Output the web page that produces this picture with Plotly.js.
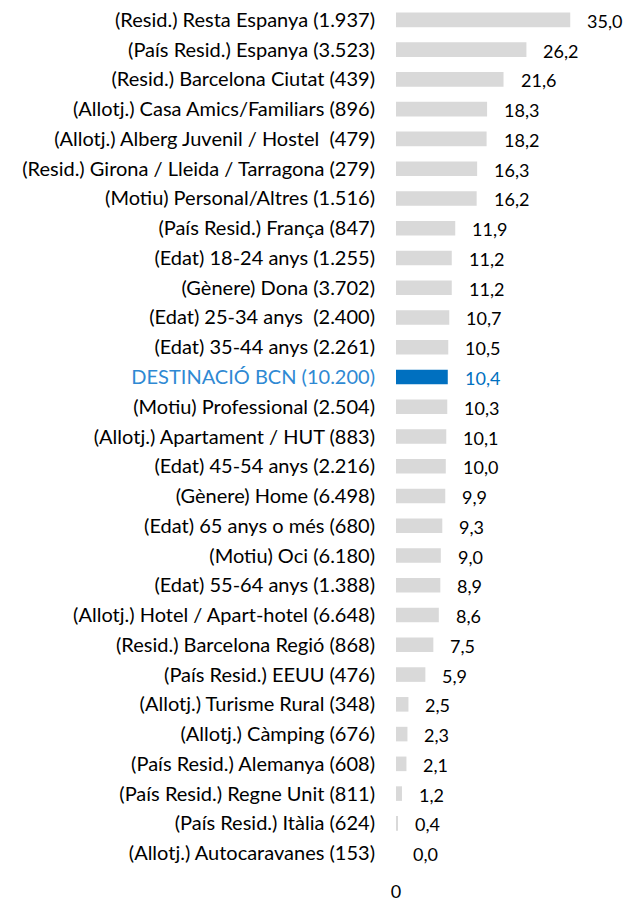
<!DOCTYPE html>
<html>
<head>
<meta charset="utf-8">
<script src="https://cdn.plot.ly/plotly-3.0.1.min.js"></script>
<style>html,body{margin:0;padding:0;background:#fff;}#chart{width:633px;height:902px;}</style>
</head>
<body>
<div id="chart"></div>
<script>
const categories = [
  "(Resid.) Resta Espanya (1.937)",
  "(País Resid.) Espanya (3.523)",
  "(Resid.) Barcelona Ciutat (439)",
  "(Allotj.) Casa Amics/Familiars (896)",
  "(Allotj.) Alberg Juvenil / Hostel  (479)",
  "(Resid.) Girona / Lleida / Tarragona (279)",
  "(Motiu) Personal/Altres (1.516)",
  "(País Resid.) França (847)",
  "(Edat) 18-24 anys (1.255)",
  "(Gènere) Dona (3.702)",
  "(Edat) 25-34 anys  (2.400)",
  "(Edat) 35-44 anys (2.261)",
  "DESTINACIÓ BCN (10.200)",
  "(Motiu) Professional (2.504)",
  "(Allotj.) Apartament / HUT (883)",
  "(Edat) 45-54 anys (2.216)",
  "(Gènere) Home (6.498)",
  "(Edat) 65 anys o més (680)",
  "(Motiu) Oci (6.180)",
  "(Edat) 55-64 anys (1.388)",
  "(Allotj.) Hotel / Apart-hotel (6.648)",
  "(Resid.) Barcelona Regió (868)",
  "(País Resid.) EEUU (476)",
  "(Allotj.) Turisme Rural (348)",
  "(Allotj.) Càmping (676)",
  "(País Resid.) Alemanya (608)",
  "(País Resid.) Regne Unit (811)",
  "(País Resid.) Itàlia (624)",
  "(Allotj.) Autocaravanes (153)"
];
const values = [35.0, 26.2, 21.6, 18.3, 18.2, 16.3, 16.2, 11.9, 11.2, 11.2, 10.7, 10.5, 10.4, 10.3, 10.1, 10.0, 9.9, 9.3, 9.0, 8.9, 8.6, 7.5, 5.9, 2.5, 2.3, 2.1, 1.2, 0.4, 0.0];
const highlight = "DESTINACIÓ BCN (10.200)";

const grey = "#d9d9d9", blue = "#0070c0", lightBlue = "#2f89d3";
const barColors = categories.map(c => c === highlight ? blue : grey);
const fmt = v => v.toFixed(1).replace(".", ",");

const trace = {
  type: "bar", orientation: "h",
  x: values, y: categories,
  marker: {color: barColors},
  width: 0.49,
  hoverinfo: "skip"
};

const annotations = categories.map((c, i) => ({
  x: values[i], y: c, xref: "x", yref: "y",
  text: fmt(values[i]), showarrow: false,
  xanchor: "left", xshift: 15, yshift: -1,
  font: {family: "Lato, sans-serif", size: 18, color: c === highlight ? blue : "#000"}
}));

const tickText = categories.map(c => c === highlight ? `<span style="color:${lightBlue}">${c}</span>` : c);

const layout = {
  width: 633, height: 902,
  margin: {l: 396, r: 8, t: 5, b: 34},
  paper_bgcolor: "#fff", plot_bgcolor: "#fff",
  showlegend: false,
  font: {family: "Lato, sans-serif", size: 20, color: "#000"},
  xaxis: {
    range: [0, 46], tickvals: [0], ticktext: ["0"],
    showgrid: false, zeroline: false, showline: false, ticks: "",
    ticklabelstandoff: 11,
    tickfont: {family: "Lato, sans-serif", size: 18, color: "#000"}
  },
  yaxis: {
    type: "category", autorange: "reversed",
    tickvals: categories, ticktext: tickText,
    showgrid: false, zeroline: false, showline: false, ticks: "",
    ticklabelstandoff: 20,
    tickfont: {family: "Lato, sans-serif", size: 20, color: "#000"}
  },
  annotations: annotations
};

Plotly.newPlot("chart", [trace], layout, {staticPlot: true, displayModeBar: false});
</script>
</body>
</html>
